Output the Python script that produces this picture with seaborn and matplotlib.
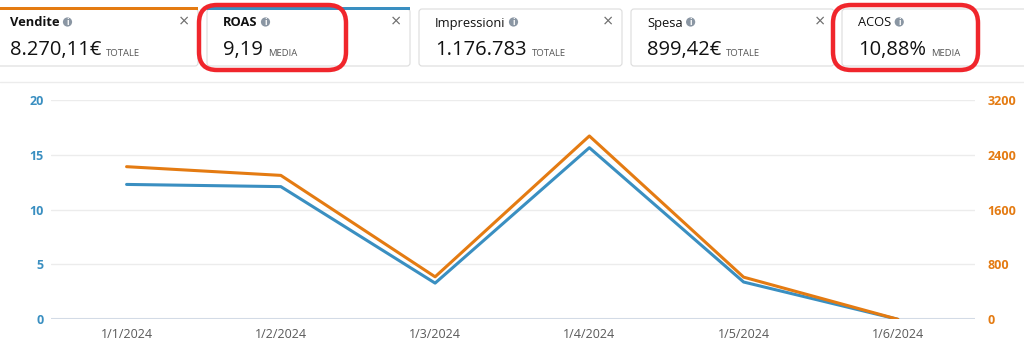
import matplotlib
matplotlib.use("Agg")
import matplotlib.pyplot as plt
import seaborn as sns
import pandas as pd
from matplotlib.patches import FancyBboxPatch, Rectangle, Circle

# dati
dates = ["1/1/2024", "1/2/2024", "1/3/2024", "1/4/2024", "1/5/2024", "1/6/2024"]
roas = [12.3, 12.1, 3.3, 15.65, 3.4, 0]
vendite = [2227, 2100, 620, 2675, 615, 0]

left_ticks = [0, 5, 10, 15, 20]
right_ticks = [0, 800, 1600, 2400, 3200]

# schede in alto: titolo, valore, etichetta
card_titles = ["Vendite", "ROAS", "Impressioni", "Spesa", "ACOS"]
card_values = ["8.270,11€", "9,19", "1.176.783", "899,42€", "10,88%"]
card_kinds = ["TOTALE", "MEDIA", "TOTALE", "TOTALE", "MEDIA"]

BLUE = "#3a8fc1"
ORANGE = "#e47b12"
RED = "#f0262c"

sns.set_style("white")
plt.rcParams["font.family"] = ["Open Sans", "DejaVu Sans"]

fig = plt.figure(figsize=(10.24, 3.58), dpi=100)
renderer = fig.canvas.get_renderer()

# livello di sfondo in coordinate pixel
bg = fig.add_axes([0, 0, 1, 1], zorder=0)
bg.set_xlim(0, 1024)
bg.set_ylim(358, 0)
bg.axis("off")


def right_edge(txt):
    # bordo destro del testo in pixel
    return txt.get_window_extent(renderer).x1


card_x = [-6, 207, 419, 631, 842]
card_w = [204, 203, 203, 203, 200]
card_sel = [ORANGE, BLUE, None, None, None]
for i, t in enumerate(card_titles):
    x0, w = card_x[i], card_w[i]
    bg.add_patch(FancyBboxPatch((x0, 9), w, 57, boxstyle="round,pad=0,rounding_size=3",
                                fc="white", ec="#dcdcdc", lw=0.8))
    if card_sel[i]:
        bg.add_patch(Rectangle((x0, 7), w, 3, fc=card_sel[i], ec="none"))
    tx = x0 + 16 if i > 0 else 10
    bold = i < 2
    title = bg.text(tx, 23, t, fontsize=9.3, fontweight="bold" if bold else "normal",
                    color="#111111", va="center", ha="left")
    ix = right_edge(title) + 8
    bg.add_patch(Circle((ix, 22), 4.6, fc="#8a96a3", ec="none"))
    bg.text(ix, 22.3, "i", fontsize=6, fontweight="bold", color="white",
            ha="center", va="center")
    if i < 4:
        bg.text(x0 + w - 14, 22, "×", fontsize=13, color="#6f6f6f", ha="center", va="center")
    val = bg.text(tx, 50, card_values[i], fontsize=14.5, color="#111111", va="center", ha="left")
    bg.text(right_edge(val) + 5, 53, card_kinds[i], fontsize=6.8, color="#555555",
            va="center", ha="left")

# cornici rosse
for rx, rw in [(199, 147), (833, 145)]:
    bg.add_patch(FancyBboxPatch((rx, 5), rw, 65, boxstyle="round,pad=0,rounding_size=18",
                                fc="none", ec=RED, lw=3.2))

bg.plot([0, 1024], [82, 82], color="#ececec", lw=1)

# grafico principale
ax = fig.add_axes([51 / 1024, (358 - 319.3) / 358, 924 / 1024, 219.3 / 358], zorder=2)
ax.set_facecolor("none")
ax2 = ax.twinx()

df = pd.DataFrame({"data": dates, "ROAS": roas, "Vendite": vendite})
sns.lineplot(data=df, x="data", y="ROAS", ax=ax, color=BLUE, lw=2.2, sort=False)
sns.lineplot(data=df, x="data", y="Vendite", ax=ax2, color=ORANGE, lw=2.2, sort=False)

ax.set_xlim(-0.49, 5.5)
ax.set_ylim(0, 20)
ax2.set_ylim(0, 3200)
ax.set_yticks(left_ticks)
ax2.set_yticks(right_ticks)
ax.set_xlabel("")
ax.set_ylabel("")
ax2.set_ylabel("")

for y in left_ticks[1:]:
    ax.axhline(y, color="#ececec", lw=1, zorder=0)
ax.axhline(0, color="#d3dbe6", lw=1.5, zorder=0)

for a in (ax, ax2):
    for s in a.spines.values():
        s.set_visible(False)
    a.grid(False)

ax.tick_params(axis="y", length=0, pad=5, labelsize=9, labelcolor=BLUE)
ax2.tick_params(axis="y", length=0, pad=9, labelsize=9, labelcolor=ORANGE)
ax.tick_params(axis="x", length=0, pad=6, labelsize=9, labelcolor="#5a5a5a")
for lb in ax.get_yticklabels() + ax2.get_yticklabels():
    lb.set_fontweight("bold")

fig.savefig("out.png", dpi=100)
